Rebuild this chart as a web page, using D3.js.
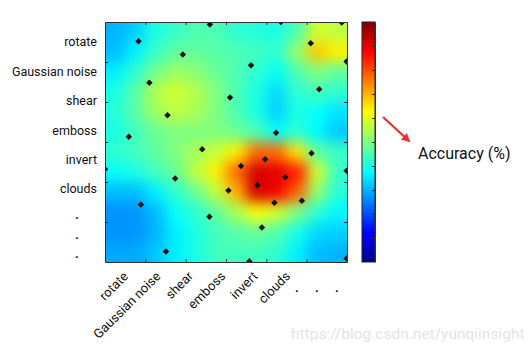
<!DOCTYPE html>
<html>
<head>
<meta charset="utf-8">
<script src="https://cdn.jsdelivr.net/npm/d3@7"></script>
<style>
    body { margin: 0; background: #fff; }
    text { font-family: Roboto, "Liberation Sans", Arial, sans-serif; }
</style>
</head>
<body>
<div id="chart"></div>
<script>
// Declare data.
const CATEGORIES = ['rotate', 'Gaussian noise', 'shear', 'emboss', 'invert', 'clouds'];
const MORE = ['.', '.', '.'];

// Accuracy on a 12 x 12 grid, 0 = lowest, 1 = highest.
const ACCURACY = [
    [0.30, 0.33, 0.40, 0.43, 0.45, 0.45, 0.42, 0.41, 0.40, 0.45, 0.58, 0.56],
    [0.31, 0.36, 0.43, 0.47, 0.47, 0.46, 0.45, 0.44, 0.42, 0.52, 0.68, 0.64],
    [0.36, 0.42, 0.49, 0.53, 0.51, 0.48, 0.45, 0.42, 0.38, 0.45, 0.50, 0.47],
    [0.40, 0.46, 0.55, 0.58, 0.55, 0.50, 0.45, 0.40, 0.34, 0.42, 0.44, 0.42],
    [0.41, 0.46, 0.53, 0.56, 0.54, 0.50, 0.45, 0.40, 0.33, 0.40, 0.38, 0.35],
    [0.40, 0.44, 0.48, 0.50, 0.50, 0.50, 0.48, 0.45, 0.38, 0.42, 0.37, 0.32],
    [0.42, 0.44, 0.47, 0.50, 0.54, 0.57, 0.64, 0.77, 0.77, 0.65, 0.47, 0.43],
    [0.38, 0.40, 0.44, 0.48, 0.56, 0.64, 0.77, 0.92, 0.90, 0.85, 0.58, 0.43],
    [0.31, 0.31, 0.36, 0.42, 0.48, 0.56, 0.70, 0.92, 0.88, 0.78, 0.52, 0.41],
    [0.27, 0.27, 0.31, 0.38, 0.42, 0.47, 0.54, 0.62, 0.58, 0.50, 0.42, 0.37],
    [0.27, 0.27, 0.30, 0.36, 0.40, 0.44, 0.46, 0.48, 0.46, 0.40, 0.34, 0.33],
    [0.29, 0.29, 0.32, 0.36, 0.40, 0.44, 0.44, 0.44, 0.42, 0.36, 0.31, 0.30]
];

// Sampled points (black diamonds), in grid units 0..6.
const POINT_X = [0.83, 2.60, 4.36, 5.87, 5.10, 1.93, 3.62, 5.99, 1.10, 5.31, 3.10, 1.55, 4.24, 0.59, 2.41, 5.12,
    3.97, 3.37, 0.00, 5.99, 1.74, 4.47, 3.78, 3.06, 4.20, 4.88, 0.89, 2.59, 3.89, 5.99, 1.51, 3.58];
const POINT_Y = [0.48, 0.06, 0.00, 0.01, 0.53, 0.81, 1.08, 0.99, 1.52, 1.68, 1.89, 2.33, 2.77, 2.87, 3.18, 3.28,
    3.43, 3.60, 3.68, 3.72, 3.91, 3.88, 4.08, 4.21, 4.52, 4.47, 4.56, 4.87, 5.14, 5.91, 5.74, 5.98];

const GRID_TICKS = [1, 2, 3, 4, 5];
const COLORBAR_TICKS = [0.1, 0.2, 0.3, 0.4, 0.5, 0.6, 0.7, 0.8, 0.9];

// Jet colormap.
const JET_STOPS = [0, 0.125, 0.375, 0.625, 0.875, 1];
const JET_COLORS = ['#00008f', '#0000ff', '#00ffff', '#ffff00', '#ff0000', '#800000'];

const width = 531, height = 353;
const plot = {left: 105, top: 22, width: 242, height: 240};
const bar = {left: 362, width: 13};

const svg = d3.select('#chart').append('svg')
    .attr('width', width)
    .attr('height', height);

const defs = svg.append('defs');

const color = d3.scaleLinear().domain(JET_STOPS).range(JET_COLORS).clamp(true);

const xScale = d3.scaleLinear().domain([0, 6]).range([plot.left, plot.left + plot.width]);
const yScale = d3.scaleLinear().domain([0, 6]).range([plot.top, plot.top + plot.height]);

const colBand = d3.scaleBand().domain(d3.range(ACCURACY[0].length)).range([plot.left, plot.left + plot.width]);
const rowBand = d3.scaleBand().domain(d3.range(ACCURACY.length)).range([plot.top, plot.top + plot.height]);

// Smooth the grid with a blur, keep it opaque at the edges.
const smooth = defs.append('filter')
    .attr('id', 'smooth')
    .attr('filterUnits', 'userSpaceOnUse')
    .attr('x', plot.left).attr('y', plot.top)
    .attr('width', plot.width).attr('height', plot.height)
    .attr('color-interpolation-filters', 'sRGB');
smooth.append('feGaussianBlur').attr('stdDeviation', 7);
smooth.append('feComponentTransfer')
    .append('feFuncA').attr('type', 'table').attr('tableValues', '1 1');

defs.append('clipPath').attr('id', 'plot-clip')
    .append('rect')
    .attr('x', plot.left).attr('y', plot.top)
    .attr('width', plot.width).attr('height', plot.height);

const cells = ACCURACY.flatMap((row, r) => row.map((v, c) => ({r, c, v})));

svg.append('g')
    .attr('filter', 'url(#smooth)')
    .selectAll('rect')
    .data(cells)
    .join('rect')
    .attr('x', d => colBand(d.c))
    .attr('y', d => rowBand(d.r))
    .attr('width', colBand.bandwidth() + 0.5)
    .attr('height', rowBand.bandwidth() + 0.5)
    .attr('fill', d => color(d.v));

// Diamonds.
const points = POINT_X.map((x, i) => ({x, y: POINT_Y[i]}));
svg.append('g')
    .attr('clip-path', 'url(#plot-clip)')
    .selectAll('path')
    .data(points)
    .join('path')
    .attr('d', d3.symbol(d3.symbolSquare, 21))
    .attr('transform', d => `translate(${xScale(d.x)},${yScale(d.y)}) rotate(45)`)
    .attr('fill', '#111');

// Inward ticks on all four sides.
const hideText = g => g.selectAll('text').remove();
svg.append('g').attr('transform', `translate(0,${plot.top + plot.height})`)
    .call(d3.axisTop(xScale).tickValues(GRID_TICKS).tickSize(3).tickSizeOuter(0)).call(hideText);
svg.append('g').attr('transform', `translate(0,${plot.top})`)
    .call(d3.axisBottom(xScale).tickValues(GRID_TICKS).tickSize(3).tickSizeOuter(0)).call(hideText);
svg.append('g').attr('transform', `translate(${plot.left},0)`)
    .call(d3.axisRight(yScale).tickValues(GRID_TICKS).tickSize(3).tickSizeOuter(0)).call(hideText);
svg.append('g').attr('transform', `translate(${plot.left + plot.width},0)`)
    .call(d3.axisLeft(yScale).tickValues(GRID_TICKS).tickSize(3).tickSizeOuter(0)).call(hideText);
svg.selectAll('.domain, .tick line').attr('stroke', '#333');

// Row labels.
const rowLabel = d3.scalePoint().domain(CATEGORIES).range([42, 189]);
svg.append('g').selectAll('text')
    .data(CATEGORIES)
    .join('text')
    .attr('x', 97)
    .attr('y', d => rowLabel(d))
    .attr('dy', '0.35em')
    .attr('text-anchor', 'end')
    .attr('font-size', 12.5)
    .attr('fill', '#111')
    .text(d => d);

const rowMore = d3.scalePoint().domain(d3.range(MORE.length)).range([219, 258]);
svg.append('g').selectAll('text')
    .data(MORE)
    .join('text')
    .attr('x', 77)
    .attr('y', (_, i) => rowMore(i))
    .attr('text-anchor', 'middle')
    .attr('font-size', 13)
    .attr('font-weight', 'bold')
    .attr('fill', '#111')
    .text(d => d);

// Column labels, rotated.
const colLabel = d3.scalePoint().domain(CATEGORIES).range([129, 291]);
svg.append('g').selectAll('text')
    .data(CATEGORIES)
    .join('text')
    .attr('transform', d => `translate(${colLabel(d)},${277}) rotate(-45)`)
    .attr('text-anchor', 'end')
    .attr('font-size', 13)
    .attr('fill', '#111')
    .text(d => d);

const colMore = d3.scalePoint().domain(d3.range(MORE.length)).range([297, 337]);
svg.append('g').selectAll('text')
    .data(MORE)
    .join('text')
    .attr('x', (_, i) => colMore(i))
    .attr('y', 292)
    .attr('text-anchor', 'middle')
    .attr('font-size', 13)
    .attr('font-weight', 'bold')
    .attr('fill', '#111')
    .text(d => d);

// Colour bar.
const grad = defs.append('linearGradient')
    .attr('id', 'jet')
    .attr('x1', 0).attr('y1', 1).attr('x2', 0).attr('y2', 0);
grad.selectAll('stop')
    .data(JET_STOPS)
    .join('stop')
    .attr('offset', d => d)
    .attr('stop-color', (d, i) => JET_COLORS[i]);

const barScale = d3.scaleLinear().domain([0, 1]).range([plot.top + plot.height, plot.top]);
svg.append('rect')
    .attr('x', bar.left).attr('y', plot.top)
    .attr('width', bar.width).attr('height', plot.height)
    .attr('fill', 'url(#jet)')
    .attr('stroke', '#222')
    .attr('stroke-width', 1);
svg.append('g').attr('transform', `translate(${bar.left + bar.width},0)`)
    .call(d3.axisLeft(barScale).tickValues(COLORBAR_TICKS).tickSize(3).tickSizeOuter(0))
    .call(hideText)
    .call(g => g.selectAll('line, .domain').attr('stroke', '#333'));

// Arrow and label.
defs.append('marker')
    .attr('id', 'head')
    .attr('viewBox', '0 0 10 10')
    .attr('refX', 8).attr('refY', 5)
    .attr('markerWidth', 4).attr('markerHeight', 4)
    .attr('orient', 'auto')
    .append('path')
    .attr('d', 'M0,0L10,5L0,10Z')
    .attr('fill', '#e8312f');

svg.append('line')
    .attr('x1', 383).attr('y1', 117)
    .attr('x2', 409).attr('y2', 141)
    .attr('stroke', '#e8312f')
    .attr('stroke-width', 2.2)
    .attr('marker-end', 'url(#head)');

svg.append('text')
    .attr('x', 418).attr('y', 159)
    .attr('font-size', 16)
    .attr('fill', '#111')
    .text('Accuracy (%)');

// Watermark.
svg.append('text')
    .attr('x', 291).attr('y', 339)
    .attr('font-size', 15.5)
    .attr('fill', '#e4e4e4')
    .text('https://blog.csdn.net/yunqiinsight');
</script>
</body>
</html>
